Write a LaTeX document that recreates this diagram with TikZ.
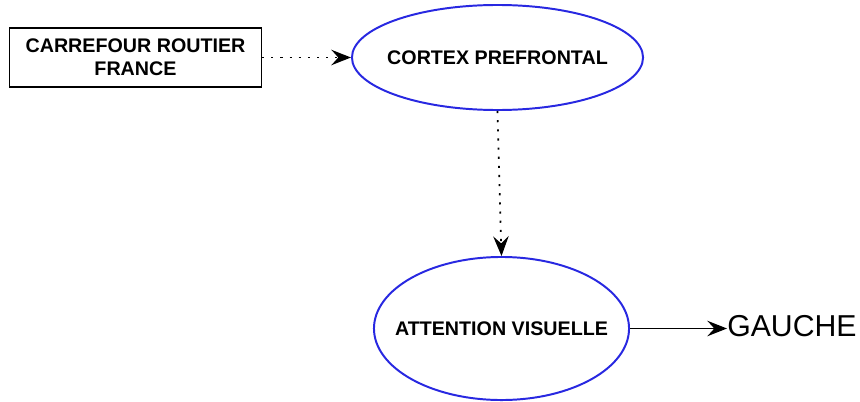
\documentclass[tikz,border=0pt]{standalone}
\usepackage{fontspec}
\setmainfont{Liberation Sans}
\usepackage{tikz}
\usetikzlibrary{arrows.meta,shapes.geometric,positioning}
\usepackage{xcolor}
\definecolor{ovalblue}{RGB}{40,40,225}
\newcommand{\ovaltext}[1]{\makebox[0pt]{#1}}
\tikzset{
  oval/.style={ellipse,draw=ovalblue,line width=1.4pt,inner sep=0pt,
    font=\fontsize{14}{16}\selectfont\bfseries},
  srcbox/.style={draw,line width=0.9pt,inner sep=0pt,align=center,
    font=\fontsize{14}{16.4}\selectfont\bfseries},
  link/.style={line width=1.2pt,-{Stealth[length=14pt,width=11pt,inset=5pt]}},
  dots/.style={link,dash pattern=on 1.5pt off 5pt}
}
\begin{document}
\begin{tikzpicture}[x=0.025cm,y=-0.025cm]
  \useasboundingbox (0,0) rectangle (860,401);
  \node[srcbox,minimum width=6.3cm,minimum height=1.475cm] (carrefour) at (135.5,57.5) {CARREFOUR ROUTIER\\FRANCE};
  \node[oval,minimum width=7.275cm,minimum height=2.625cm] (cortex) at (497.5,57.5) {\ovaltext{CORTEX PREFRONTAL}};
  \node[oval,minimum width=6.375cm,minimum height=3.575cm] (attention) at (501.5,328.5) {\ovaltext{ATTENTION VISUELLE}};
  \node[anchor=west,inner sep=0pt,font=\fontsize{21.5}{24}\selectfont] (gauche) at (727,326) {GAUCHE};
  % liens
  \draw[dots] (carrefour.east)--(cortex.west);
  \draw[dots] (cortex.south)--(attention.north);
  \draw[link] (attention.east)--(attention.east -| gauche.west);
\end{tikzpicture}
\end{document}
